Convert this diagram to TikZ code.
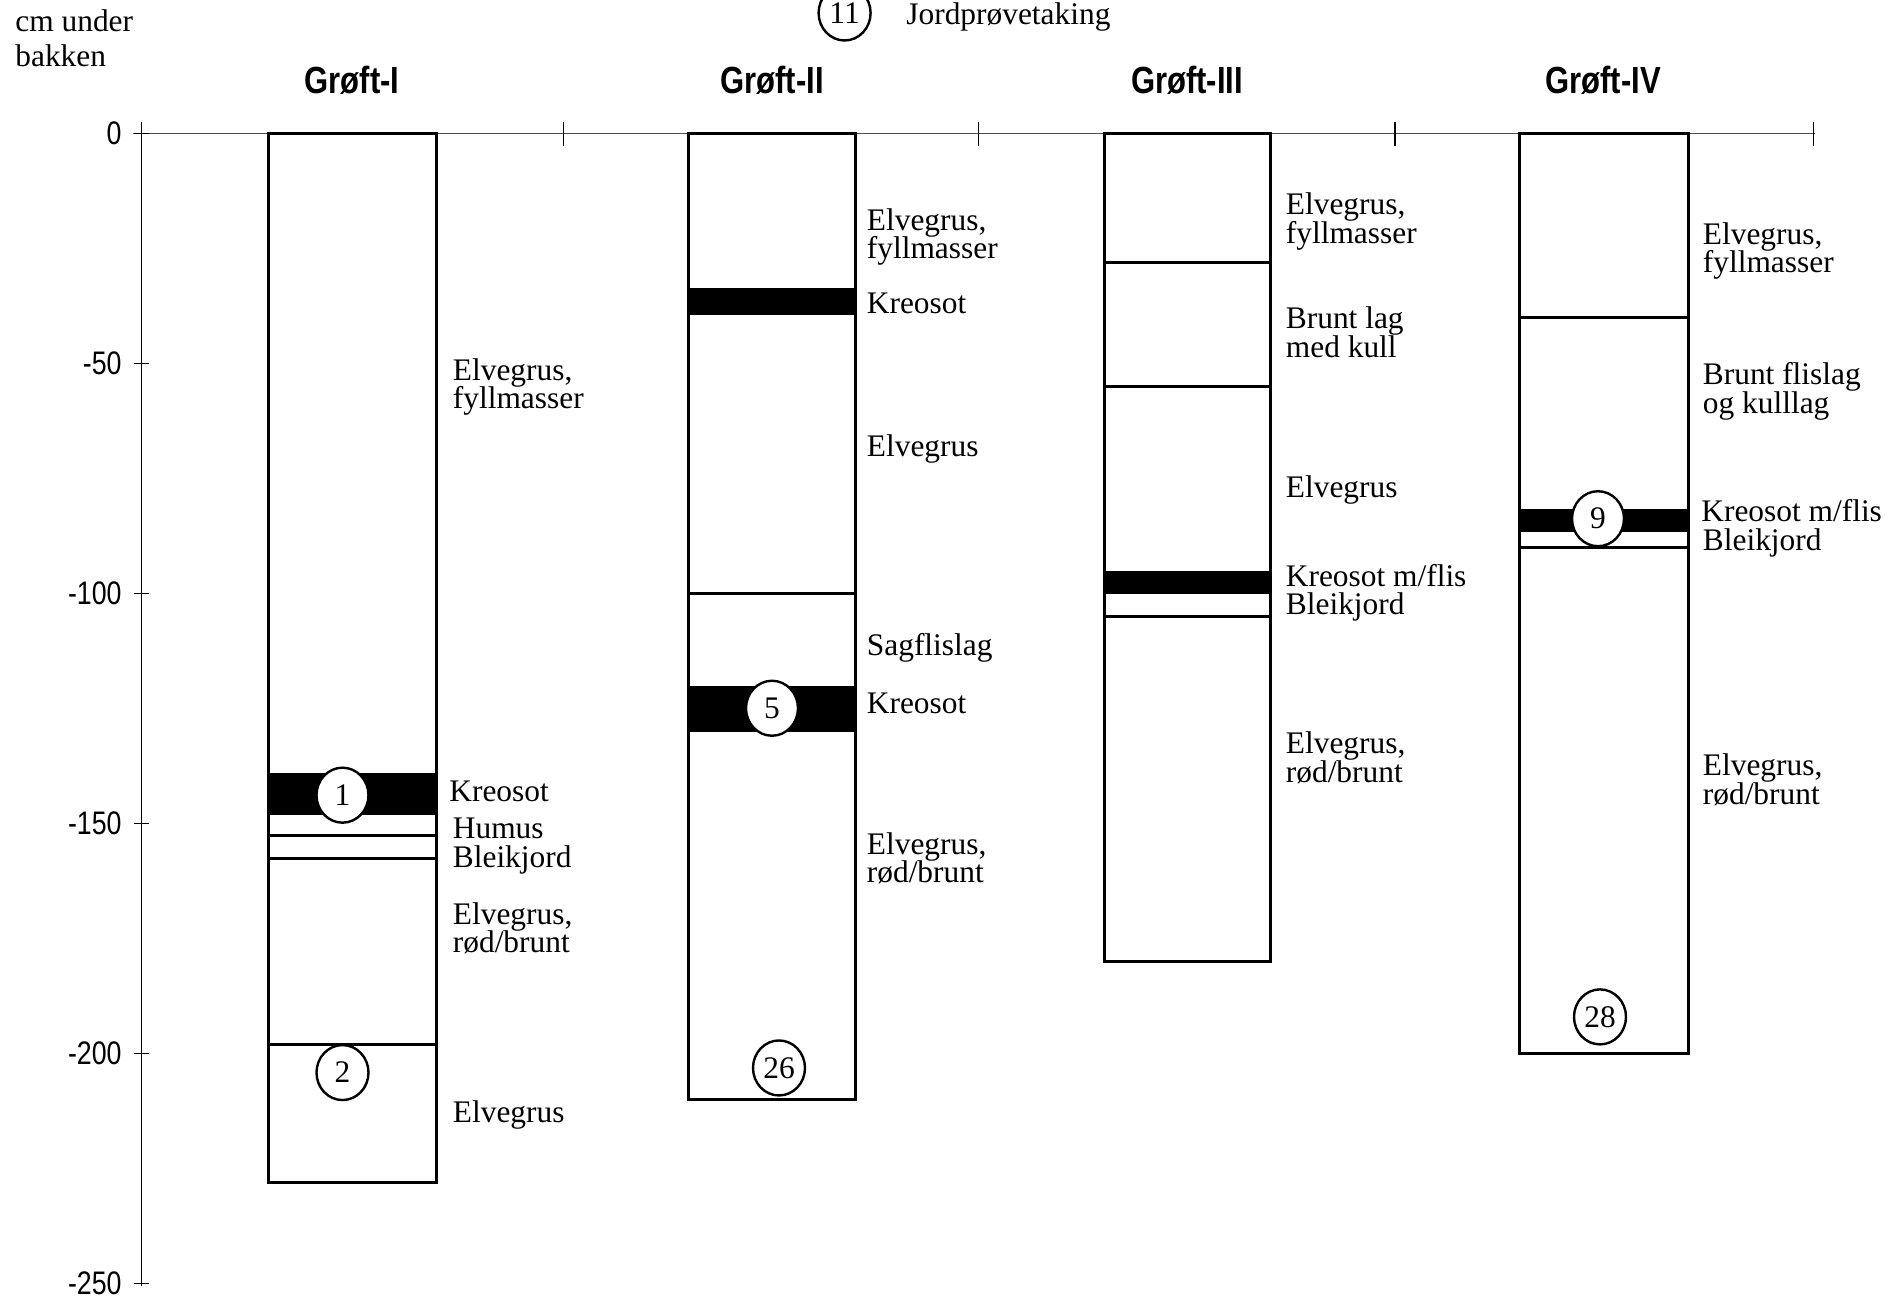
\documentclass[tikz,border=0pt]{standalone}
\usepackage{fontspec}
\setmainfont{Liberation Serif}
\newfontfamily\narrowsans[FakeStretch=0.82]{Liberation Sans}
\usetikzlibrary{shapes.geometric}
\begin{document}
\begin{tikzpicture}[x=0.5pt,y=-0.5pt,
  lbl/.style={anchor=base west, inner sep=0pt, text height=9.5pt, text depth=3pt, font=\fontsize{15.7}{14}\selectfont},
  ttl/.style={inner sep=0pt, font=\narrowsans\bfseries\fontsize{18.9}{20}\selectfont},
  axl/.style={anchor=east, inner sep=0pt, font=\narrowsans\fontsize{16.3}{18}\selectfont},
  smp/.style={ellipse, draw, line width=1.2pt, fill=white, minimum width=26pt, minimum height=27.5pt, inner sep=0pt, font=\fontsize{15.7}{14}\selectfont},
  colbox/.style={line width=1.5pt},
  laybound/.style={line width=1.3pt},
  axisline/.style={line width=0.7pt}]
\useasboundingbox (0,0) rectangle (1892,1299);

% header texts
\node[lbl] (cm1) at (15,31.5) {cm under};
\node[lbl] (cm2) at (15,66.5) {bakken};
\node[smp] (leg) at (844.6,13) {11};
\node[lbl] (legt) at (906,25) {Jordprøvetaking};

\node[ttl] (t1) at (352,80) {Grøft-I};
\node[ttl] (t2) at (772,80) {Grøft-II};
\node[ttl] (t3) at (1187,80) {Grøft-III};
\node[ttl] (t4) at (1603,80) {Grøft-IV};

% axes
\draw[axisline] (141.5,122) -- (141.5,1286);
\draw[axisline, black!70] (133,133.7) -- (1814.5,133.7);
\foreach \xx in {563.5,978.6,1394.8,1813.5}
  \draw[axisline] (\xx,122) -- (\xx,146);
\foreach \dd/\lab in {0/0,50/-50,100/-100,150/-150,200/-200,250/-250}{
  \pgfmathsetmacro{\yy}{133.7+4.6*\dd}
  \node[axl] (ax\dd) at (122,\yy) {\lab};
  \draw[axisline] (134,\yy) -- (149,\yy);
}

\begin{scope}[yshift=-66.85pt, y=-2.3pt]
  % Groft I
  \fill (268,139) rectangle (436,148);
  \draw[laybound] (268,152.5) -- (436,152.5);
  \draw[laybound] (268,157.5) -- (436,157.5);
  \draw[laybound] (268,198) -- (436,198);
  \draw[colbox] (268,0) rectangle (436,228);
  \node[smp] (s1) at (342.5,143.8) {1};
  \node[smp] (s2) at (342.5,204.1) {2};
  % Groft II
  \fill (688,33.5) rectangle (855.5,39.5);
  \draw[laybound] (688,100) -- (855.5,100);
  \fill (688,120) rectangle (855.5,130);
  \draw[colbox] (688,0) rectangle (855.5,210);
  \node[smp] (s5) at (772,124.9) {5};
  \node[smp] (s26) at (779,203.1) {26};
  % Groft III
  \draw[laybound] (1104,28) -- (1270.5,28);
  \draw[laybound] (1104,55) -- (1270.5,55);
  \fill (1104,95) rectangle (1270.5,100);
  \draw[laybound] (1104,105) -- (1270.5,105);
  \draw[colbox] (1104,0) rectangle (1270.5,180);
  % Groft IV
  \draw[laybound] (1519,40) -- (1688,40);
  \fill (1519,81.5) rectangle (1688,86.5);
  \draw[laybound] (1519,90) -- (1688,90);
  \draw[colbox] (1519,0) rectangle (1688,200);
  \node[smp] (s9) at (1598,83.7) {9};
  \node[smp] (s28) at (1600,192) {28};
\end{scope}

% labels Groft I
\node[lbl] (a1) at (452.5,381) {Elvegrus,};
\node[lbl] (a2) at (452.5,409) {fyllmasser};
\node[lbl] (a3) at (449,801) {Kreosot};
\node[lbl] (a4) at (452.5,838) {Humus};
\node[lbl] (a5) at (452.5,867) {Bleikjord};
\node[lbl] (a6) at (452.5,924) {Elvegrus,};
\node[lbl] (a7) at (452.5,952) {rød/brunt};
\node[lbl] (a8) at (452.5,1122) {Elvegrus};
% labels Groft II
\node[lbl] (b1) at (866.5,231) {Elvegrus,};
\node[lbl] (b2) at (866.5,259) {fyllmasser};
\node[lbl] (b3) at (866.5,314) {Kreosot};
\node[lbl] (b4) at (866.5,457) {Elvegrus};
\node[lbl] (b5) at (866.5,656) {Sagflislag};
\node[lbl] (b6) at (866.5,713) {Kreosot};
\node[lbl] (b7) at (866.5,854) {Elvegrus,};
\node[lbl] (b8) at (866.5,882) {rød/brunt};
% labels Groft III
\node[lbl] (c1) at (1285.5,215) {Elvegrus,};
\node[lbl] (c2) at (1285.5,244) {fyllmasser};
\node[lbl] (c3) at (1285.5,328.5) {Brunt lag};
\node[lbl] (c4) at (1285.5,357.5) {med kull};
\node[lbl] (c5) at (1285.5,498) {Elvegrus};
\node[lbl] (c6) at (1285.5,587) {Kreosot m/flis};
\node[lbl] (c7) at (1285.5,615) {Bleikjord};
\node[lbl] (c8) at (1285.5,754) {Elvegrus,};
\node[lbl] (c9) at (1285.5,782) {rød/brunt};
% labels Groft IV
\node[lbl] (d1) at (1702.5,244.3) {Elvegrus,};
\node[lbl] (d2) at (1702.5,272.5) {fyllmasser};
\node[lbl] (d3) at (1702.5,385) {Brunt flislag};
\node[lbl] (d4) at (1702.5,413.3) {og kulllag};
\node[lbl] (d5) at (1701,522) {Kreosot m/flis};
\node[lbl] (d6) at (1702.5,551) {Bleikjord};
\node[lbl] (d7) at (1702.5,776) {Elvegrus,};
\node[lbl] (d8) at (1702.5,804) {rød/brunt};
\end{tikzpicture}
\end{document}
